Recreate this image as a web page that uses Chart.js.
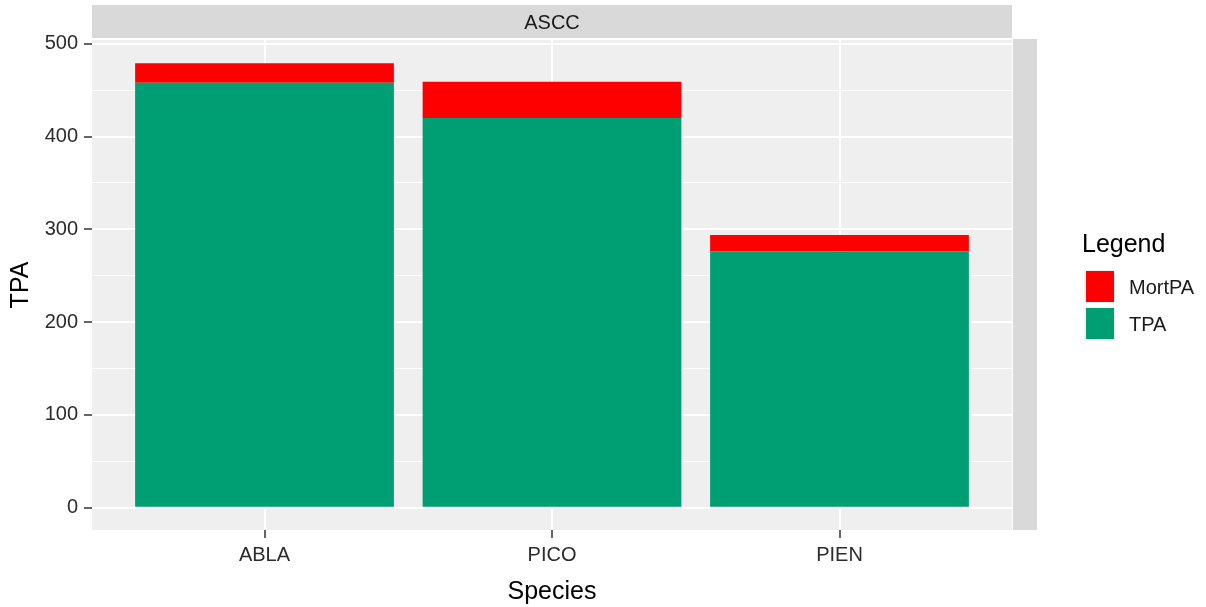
<!DOCTYPE html>
<html>
<head>
<meta charset="utf-8">
<script src="https://cdn.jsdelivr.net/npm/chart.js@4/dist/chart.umd.min.js"></script>
<style>
  html, body { margin: 0; padding: 0; background: #fff; }
  #wrap { width: 1206px; height: 607px; }
</style>
</head>
<body>
<div id="wrap"><canvas id="tpa-chart" width="1206" height="607"></canvas></div>
<script>
// values
var species = ["ABLA", "PICO", "PIEN"];
var tpa = [458, 420, 276];
var mortpa = [21, 39, 18];
var yTicks = [0, 50, 100, 150, 200, 250, 300, 350, 400, 450, 500];
var facet = "ASCC";

var FONT = "'Liberation Sans', Arial, sans-serif";

function points(vals) {
	var out = [];
	for (var i in vals) {
		out.push({x: Number(i) + 1, y: vals[i]});
	}
	return out;
}

// ggplot-ish panel, strips and legend
var ggDecor = {
	id: "ggDecor",
	beforeDraw: function(chart) {
		var c = chart.ctx, a = chart.chartArea;
		c.save();
		c.fillStyle = "#ffffff";
		c.fillRect(0, 0, chart.width, chart.height);
		c.fillStyle = "#efefef";
		c.fillRect(a.left, a.top, a.right - a.left, a.bottom - a.top);
		// facet strip on top
		c.fillStyle = "#d9d9d9";
		c.fillRect(a.left, 5, a.right - a.left, a.top - 7);
		c.fillStyle = "#1a1a1a";
		c.font = "20px " + FONT;
		c.textAlign = "center";
		c.textBaseline = "middle";
		c.fillText(facet, (a.left + a.right) / 2, 23);
		// empty strip on the right
		c.fillStyle = "#d9d9d9";
		c.fillRect(a.right + 1, a.top - 1, 24, a.bottom - a.top + 1);
		c.restore();
	},
	afterDraw: function(chart) {
		var c = chart.ctx;
		c.save();
		c.fillStyle = "#000";
		c.font = "25px " + FONT;
		c.textAlign = "left";
		c.textBaseline = "alphabetic";
		c.fillText("Legend", 1082, 252);
		var keys = [
			{label: "MortPA", color: "#ff0000"},
			{label: "TPA", color: "#009e73"}
		];
		c.font = "20px " + FONT;
		c.textBaseline = "middle";
		for (var i = 0; i < keys.length; i++) {
			var y = 271 + i * 37;
			c.fillStyle = "#f2f2f2";
			c.fillRect(1084, y - 1, 31, 33);
			c.fillStyle = keys[i].color;
			c.fillRect(1086, y, 28, 31);
			c.fillStyle = "#1a1a1a";
			c.fillText(keys[i].label, 1129, y + 17);
		}
		c.restore();
	}
};

var chartdata = {
	datasets: [
		{
			label: "TPA",
			backgroundColor: "#009e73",
			borderWidth: 0,
			barPercentage: 0.9,
			categoryPercentage: 1,
			data: points(tpa)
		},
		{
			label: "MortPA",
			backgroundColor: "#ff0000",
			borderWidth: 0,
			barPercentage: 0.9,
			categoryPercentage: 1,
			data: points(mortpa)
		}
	]
};

var ctx = document.getElementById("tpa-chart");

var BarGraph = new Chart(ctx, {
	type: "bar",
	data: chartdata,
	plugins: [ggDecor],
	options: {
		responsive: false,
		animation: false,
		layout: {padding: {left: 0, right: 194, top: 40, bottom: 0}},
		plugins: {
			legend: {display: false},
			tooltip: {enabled: false}
		},
		scales: {
			x: {
				type: "linear",
				stacked: true,
				offset: false,
				min: 0.4,
				max: 3.6,
				afterBuildTicks: function(scale) {
					scale.ticks = species.map(function(s, i) { return {value: i + 1}; });
				},
				afterFit: function(scale) { scale.height = 77; },
				border: {display: false},
				grid: {
					offset: false,
					color: "#ffffff",
					lineWidth: 2,
					tickColor: "#333333",
					tickLength: 8,
					tickWidth: 1.5
				},
				ticks: {
					autoSkip: false,
					maxRotation: 0,
					padding: 5,
					color: "#2b2b2b",
					font: {family: FONT, size: 20},
					callback: function(v) { return species[v - 1]; }
				},
				title: {
					display: true,
					text: "Species",
					color: "#000",
					font: {family: FONT, size: 25},
					padding: {top: 9, bottom: 0}
				}
			},
			y: {
				stacked: true,
				min: -24,
				max: 504,
				afterBuildTicks: function(scale) {
					scale.ticks = yTicks.map(function(v) { return {value: v}; });
				},
				afterFit: function(scale) { scale.width = 92; },
				border: {display: false},
				grid: {
					color: "#ffffff",
					lineWidth: function(c) { return c.tick && c.tick.value % 100 === 0 ? 2 : 1; },
					tickColor: function(c) { return c.tick && c.tick.value % 100 === 0 ? "#333333" : "rgba(0,0,0,0)"; },
					tickLength: 8,
					tickWidth: 1.5
				},
				ticks: {
					autoSkip: false,
					padding: 6,
					color: "#2b2b2b",
					font: {family: FONT, size: 20},
					callback: function(v) { return v % 100 === 0 ? v : ""; }
				},
				title: {
					display: true,
					text: "TPA",
					color: "#000",
					font: {family: FONT, size: 25},
					padding: {top: 6, bottom: 0}
				}
			}
		}
	}
});
</script>
</body>
</html>
